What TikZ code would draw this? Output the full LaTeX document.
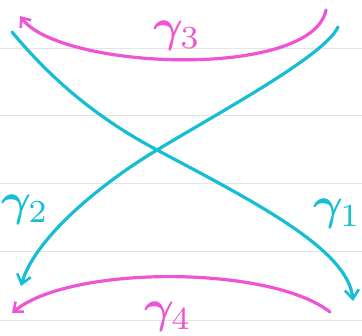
\documentclass[tikz,border=0pt]{standalone}
\usepackage{bm}
\usepackage{graphicx}
\usetikzlibrary{arrows.meta}
\definecolor{penc}{RGB}{22,190,212}
\definecolor{penm}{RGB}{238,84,212}
\definecolor{rule}{RGB}{228,228,228}
\newcommand{\biglbl}[1]{\scalebox{4.6}{$\bm{\gamma}_{#1}$}}
\begin{document}
\begin{tikzpicture}[x=1pt,y=-1pt,
  cyanpen/.style={draw=penc,line width=3.2pt,line cap=round,-{Straight Barb[length=9pt,width=14pt,line width=2.6pt]}},
  magpen/.style={draw=penm,line width=3.2pt,line cap=round,-{Straight Barb[length=8pt,width=13pt,line width=2.6pt]}},
  lbl/.style={inner sep=0pt},
  paper/.style={draw=rule,line width=0.6pt}]
\useasboundingbox (0,0) rectangle (362,336);
\fill[white] (0,0) rectangle (362,336);
\foreach \yy in {48,115,183,251,320} \draw[paper] (0,\yy) -- (362,\yy);
\coordinate (a1) at (12,32);
\coordinate (b1) at (353,301);
\coordinate (a2) at (338,27);
\coordinate (b2) at (21,286);
\coordinate (x) at (157,150);
\coordinate (a3) at (326,10);
\coordinate (b3) at (20,16);
\coordinate (a4) at (330,312);
\coordinate (b4) at (12,313);
\draw[cyanpen] (a1) .. controls (52,80) and (97,118) .. (x)
  .. controls (257,203) and (348,250) .. (b1);
\draw[cyanpen] (a2) .. controls (325,55) and (227,108) .. (x)
  .. controls (97,186) and (34,240) .. (b2);
\draw[magpen] (a3) .. controls (312,80) and (60,70) .. (b3);
\draw[magpen] (a4) .. controls (270,265) and (70,265) .. (b4);
\node[lbl,text=penm] (g3) at (177,36) {\biglbl{3}};
\node[lbl,text=penc] (g2) at (25,210) {\biglbl{2}};
\node[lbl,text=penc] (g1) at (337,214) {\biglbl{1}};
\node[lbl,text=penm] (g4) at (168,317) {\biglbl{4}};
\end{tikzpicture}
\end{document}
